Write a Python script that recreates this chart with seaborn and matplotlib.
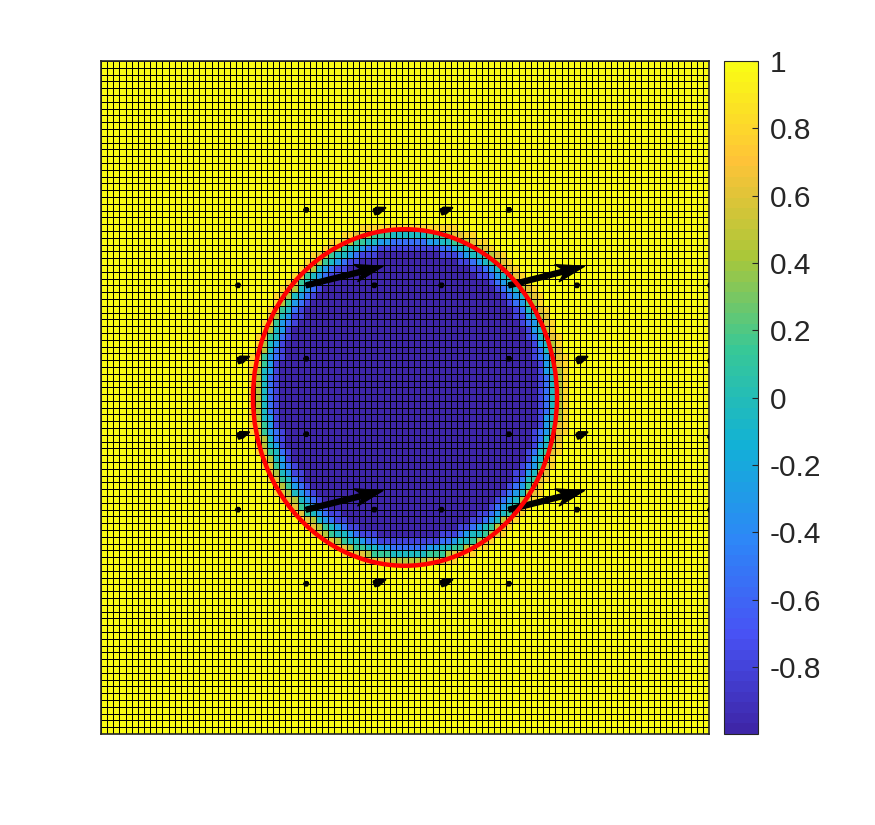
import matplotlib
matplotlib.use('Agg')
import matplotlib.pyplot as plt
from matplotlib.colors import LinearSegmentedColormap
from matplotlib.patches import Ellipse
import numpy as np
import seaborn as sns

plt.rcParams['font.family'] = ['Liberation Sans', 'DejaVu Sans']

# parula anchors
parula_colors = [(0.2422, 0.1504, 0.6603), (0.2810, 0.3228, 0.9579), (0.1786, 0.5289, 0.9682),
                 (0.0689, 0.6948, 0.8394), (0.2161, 0.7843, 0.5923), (0.6720, 0.7793, 0.2227),
                 (0.9970, 0.7659, 0.2199), (0.9769, 0.9839, 0.0805)]

# value of each digit used in the rim table
levels = [-0.97, -0.8, -0.55, -0.3, -0.05, 0.15, 0.45, 0.62, 0.8, 1.0]

# rim of the dark drop, read cell by cell: one string per row going out from the middle,
# starting at column 22, the last digit carries on to column 49
rim_rows = [
    "99864210", "99864210", "99864210", "99864310",
    "99875310", "998753210", "999764210", "999864310", "9998754210",
    "9999864310", "99998753210", "999997643110", "999998754210", "9999998653210",
    "99999987643210", "999999987643210", "9999999987543210", "999999999875432110",
    "9999999999876432110", "999999999998765432110", "999999999999876544321110",
    "999999999999998765443221", "99999999999999988765544332",
    "99999999999999999887765554",
]
top_edge_row = "99999999999999999999888888"
bottom_edge_row = "99999999999999999999887776"

tick_values = [-0.8, -0.6, -0.4, -0.2, 0, 0.2, 0.4, 0.6, 0.8, 1]
tick_labels = ['-0.8', '-0.6', '-0.4', '-0.2', '0', '0.2', '0.4', '0.6', '0.8', '1']

# velocity arrows, in cell units
big_col = [33.4, 66.4, 33.4, 66.4]
big_row = [33.0, 33.0, 66.0, 66.0]
big_u = [12.5, 12.3, 12.5, 12.3]
big_v = [-2.8, -2.8, -2.8, -2.8]

small_col = [44.5, 55.4, 22.3, 77.5, 22.3, 77.5, 44.5, 55.4]
small_row = [22.2, 22.2, 44.1, 44.1, 55.2, 55.2, 76.9, 76.9]
small_u = [1.8, 1.8, 1.8, 1.7, 1.8, 1.7, 1.8, 1.8]
small_v = [-0.6, -0.6, -0.6, -0.6, -0.6, -0.6, -0.6, -0.6]

dot_col = [33.4, 66.4, 22.3, 44.5, 55.4, 77.5, 99.2, 33.4, 66.4, 99.2,
           33.4, 66.4, 99.2, 22.3, 44.5, 55.4, 77.5, 99.2, 33.4, 66.4]
dot_row = [21.9, 21.9, 33.0, 33.0, 33.0, 33.0, 33.0, 43.8, 43.8, 44.1,
           54.9, 54.9, 55.3, 66.0, 66.0, 66.0, 66.0, 66.0, 76.9, 76.9]
dot_u = [0] * len(dot_col)
dot_v = [0] * len(dot_col)

# build the field from the table
field = np.full((99, 99), levels[9])
for j, row in enumerate(rim_rows):
    row = row.ljust(28, row[-1])
    for k, ch in enumerate(row):
        c = 22 + k
        for r in (48 - j, 49 + j):
            field[r, c] = levels[int(ch)]
            field[r, 99 - c] = levels[int(ch)]
for r, row in ((24, top_edge_row), (73, bottom_edge_row)):
    row = row.ljust(28, row[-1])
    for k, ch in enumerate(row):
        field[r, 22 + k] = levels[int(ch)]
        field[r, 77 - k] = levels[int(ch)]

parula = LinearSegmentedColormap.from_list('parula', parula_colors, N=64)

fig = plt.figure(figsize=(8.75, 8.25), dpi=100)
ax = fig.add_axes([101 / 875, 1 - 734 / 825, 608 / 875, 673 / 825])
cax = fig.add_axes([724 / 875, 1 - 734 / 825, 34 / 875, 673 / 825])

sns.heatmap(field, vmin=-0.9985, vmax=1, cmap=parula, linewidths=0.7, linecolor='black',
            xticklabels=False, yticklabels=False, ax=ax, cbar_ax=cax)
ax.collections[0].set_antialiased(True)

for spine in ax.spines.values():
    spine.set_visible(True)
    spine.set_color('#262626')
    spine.set_linewidth(1.2)

ax.quiver(big_col, big_row, big_u, big_v, angles='xy', scale_units='xy', scale=1,
          units='dots', width=5, headwidth=3.5, headlength=5.6, headaxislength=4.4,
          color='black', edgecolor='black', linewidth=1.0, zorder=4)
ax.quiver(small_col, small_row, small_u, small_v, angles='xy', scale_units='xy', scale=1,
          units='dots', width=5.5, headwidth=1.2, headlength=1.5, headaxislength=1.5,
          color='black', edgecolor='black', linewidth=1.5, joinstyle='round', zorder=4)
ax.quiver(dot_col, dot_row, dot_u, dot_v, angles='xy', scale_units='xy', scale=1,
          units='dots', width=5, minlength=1.0,
          color='black', edgecolor='black', linewidth=1.0, zorder=4)

ax.add_patch(Ellipse((49.5, 49.5), 49.5, 49.5, fill=False, edgecolor='#ff0000', linewidth=3.2, zorder=5))

cbar = ax.collections[0].colorbar
cbar.set_ticks(tick_values, labels=tick_labels)
cbar.ax.tick_params(direction='in', length=4.5, width=0.8, color='#262626',
                    labelsize=21.5, labelcolor='#262626', pad=8.5)
cbar.outline.set_visible(True)
cbar.outline.set_edgecolor('#262626')
cbar.outline.set_linewidth(0.8)

fig.savefig('out.png', dpi=100)
